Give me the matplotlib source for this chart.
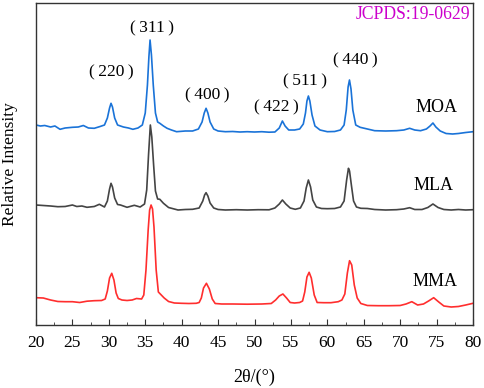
import matplotlib
matplotlib.use('Agg')
from matplotlib import pyplot as plt
from matplotlib.ticker import MultipleLocator

plt.rcParams['font.family'] = ['Liberation Serif', 'DejaVu Serif']

# MOA (blue)
moa_x = [20, 20.6, 21.2, 22, 22.6, 23.3, 24, 25, 25.8, 26.5, 27.2, 28, 28.8, 29.4, 29.8, 30.1,
         30.3, 30.5, 30.8, 31.2, 32, 32.7, 33.3, 34, 34.6, 35.0, 35.3, 35.5, 35.66, 35.85, 36.1,
         36.4, 36.7, 37.0, 37.5, 38, 38.6, 39.3, 40.5, 41.5, 42.3, 42.8, 43.1, 43.35, 43.6, 43.9,
         44.4, 45, 46, 47, 48, 49, 50, 51, 52, 52.8, 53.4, 53.83, 54.2, 54.7, 55.5, 56.2, 56.7,
         57.0, 57.2, 57.4, 57.6, 57.9, 58.3, 59, 60, 61, 61.8, 62.3, 62.6, 62.85, 63.04, 63.25,
         63.5, 63.9, 64.5, 65.5, 66.5, 68, 69.5, 70.5, 71.3, 72, 72.8, 73.6, 74.1, 74.5, 74.9,
         75.5, 76.3, 77.2, 78, 79, 80]
moa_y = [200, 199, 199.5, 198, 199, 195.7, 197, 197.7, 198, 199.5, 197, 196.7, 198.5, 200, 207, 217,
         221.7, 218, 207, 200, 198, 197, 195.7, 197, 200, 212, 240, 268, 285, 270, 240,
         212, 203, 201.7, 199, 196.7, 195, 193.3, 194, 194, 196, 203, 212, 216.7, 212, 203,
         196, 194, 193.3, 193.5, 193, 193.3, 193, 193.3, 192.8, 193, 197, 204, 199, 195, 195, 196, 201,
         212, 224, 229, 224, 210, 199, 195, 193.3, 193.5, 195, 200, 215, 238, 245, 236,
         215, 200, 197.7, 196, 194.3, 194, 194.3, 195, 196.7, 195, 194.3, 196, 199, 202, 198,
         194, 191.5, 191, 191.5, 192.5, 193.3]

# MLA (gray)
mla_x = [20, 21, 22, 23, 24, 25, 25.6, 26.3, 27, 28, 28.7, 29.4, 29.8, 30.1, 30.3, 30.5, 30.8,
         31.2, 31.6, 32.5, 33.5, 34.3, 34.9, 35.2, 35.45, 35.7, 35.9, 36.15, 36.4, 36.7, 37.0,
         37.5, 38.2, 39.5, 40.5, 41.5, 42.4, 42.9, 43.15, 43.35, 43.6, 43.9, 44.4, 45, 46, 47.5,
         49, 50.5, 52, 52.8, 53.4, 53.83, 54.3, 54.9, 55.6, 56.3, 56.8, 57.1, 57.4, 57.7, 58.0,
         58.5, 59.2, 60, 61, 61.8, 62.3, 62.65, 62.9, 63.05, 63.3, 63.6, 64.0, 64.6, 65.5, 66.5,
         68, 69.5, 70.5, 71.3, 72, 73, 73.8, 74.5, 75.2, 76, 77, 78, 79, 80]
mla_y = [120, 119.5, 119, 118.3, 118.5, 120, 118.5, 119, 117.7, 118.5, 120.7, 118, 124, 136, 141.7, 138, 127,
         120.5, 120, 117.7, 119.7, 118, 121, 135, 170, 200, 188, 160, 134, 126, 125.7,
         121.7, 117.5, 115, 115.5, 115.7, 117, 124, 130, 132.3, 129, 122, 117, 115.5, 115, 115.3,
         115, 115.3, 115.2, 117, 121, 125, 121, 117, 115.7, 117, 124, 137, 145, 138, 125,
         118, 116.5, 116.3, 116.5, 118, 124, 145, 156.7, 154, 140, 124, 118, 116.7, 116.5, 115.5,
         115, 115.3, 116, 117.3, 115.5, 115.5, 117.5, 121, 117.5, 115.5, 115, 115.5, 115, 115.3]

# MMA (red)
mma_x = [20, 21, 22, 23, 24, 25, 26, 27, 28, 29, 29.5, 29.8, 30.1, 30.4, 30.7, 31.0, 31.3, 31.8,
         32.5, 33.2, 33.8, 34.5, 34.8, 35.1, 35.4, 35.6, 35.8, 36.0, 36.2, 36.5, 36.8, 37.2, 37.6,
         38.2, 39, 40, 41, 42, 42.4, 42.7, 43.0, 43.4, 43.8, 44.2, 44.6, 45.5, 47, 49, 51, 52.3,
         52.9, 53.4, 53.9, 54.4, 54.9, 55.5, 56.2, 56.6, 56.9, 57.2, 57.5, 57.8, 58.2, 58.6, 59.5,
         60.5, 61.5, 62.0, 62.4, 62.75, 63.05, 63.35, 63.7, 64.1, 64.6, 65.5, 67, 68.5, 70, 70.8,
         71.6, 72.4, 73.2, 73.9, 74.6, 75.3, 76, 77, 78, 79, 80]
mma_y = [27.3, 27, 25, 23.5, 23.3, 23.3, 22.5, 23.8, 24.3, 24.5, 26, 34, 47, 51.7, 45, 32, 26.5, 25,
         24.5, 25, 26.5, 26, 30, 55, 95, 115, 120, 116, 98, 55, 33, 30, 27,
         23.5, 22, 21.7, 21.5, 21.7, 22.5, 27, 37, 41.7, 36, 26, 21.5, 21, 21, 20.8, 21, 21.5,
         25, 29, 31, 27, 22.5, 22, 22.5, 24, 33, 48, 52.7, 47, 30, 22.5, 22.3,
         22.3, 23.3, 25, 31, 52, 64.3, 60, 40, 27, 21.5, 19.5, 19.3, 19.3, 19.5, 21,
         23.3, 20, 21, 24, 27.3, 23, 19, 18, 18.5, 20, 21.7]

peak_labels = ['(\u2009220\u2009)', '(\u2009311\u2009)', '(\u2009400\u2009)',
               '(\u2009422\u2009)', '(\u2009511\u2009)', '(\u2009440\u2009)']
peak_x = [30.4, 35.9, 43.45, 53.06, 56.95, 63.8]
peak_h = [253, 296.7, 230, 218, 244, 265]

sample_names = ['MOA', 'MLA', 'MMA']
sample_x = [75.0, 74.55, 74.8]
sample_h = [218, 140, 44]

fig = plt.figure(figsize=(4.84, 3.88), dpi=100)
ax = fig.add_axes([36/484, 63/388, 437/484, 322/388])

ax.plot(moa_x, moa_y, color='#1a73d8', lw=1.2)
ax.plot(mla_x, mla_y, color='#444444', lw=1.2)
ax.plot(mma_x, mma_y, color='#ff2e2e', lw=1.2)

for lab, x, h in zip(peak_labels, peak_x, peak_h):
    ax.text(x, h, lab, fontsize=12.5, ha='center', va='center')
for lab, x, h in zip(sample_names, sample_x, sample_h):
    ax.text(x, h, lab, fontsize=13, ha='center', va='center')
ax.text(79.6, 311, 'JCPDS:19-0629', fontsize=12.7, color='#cc00cc', ha='right', va='center')

ax.set_xlim(20, 80)
ax.set_ylim(0, 322)
ax.set_yticks([])
ax.xaxis.set_major_locator(MultipleLocator(5))
ax.xaxis.set_minor_locator(MultipleLocator(2.5))
ax.tick_params(axis='x', which='major', direction='in', length=4, labelsize=12.5, pad=7, color='#333333')
ax.tick_params(axis='x', which='minor', direction='in', length=2.5, color='#333333')
for s in ax.spines.values():
    s.set_color('#333333')
    s.set_linewidth(1.0)

fig.text(254.5/484, 1 - 377/388, '2θ/(°)', fontsize=13, ha='center', va='center')
fig.text(10/484, 1 - 164/388, 'Relative Intensity', fontsize=12.5, rotation=90, ha='center', va='center')

fig.savefig('out.png', dpi=100)
